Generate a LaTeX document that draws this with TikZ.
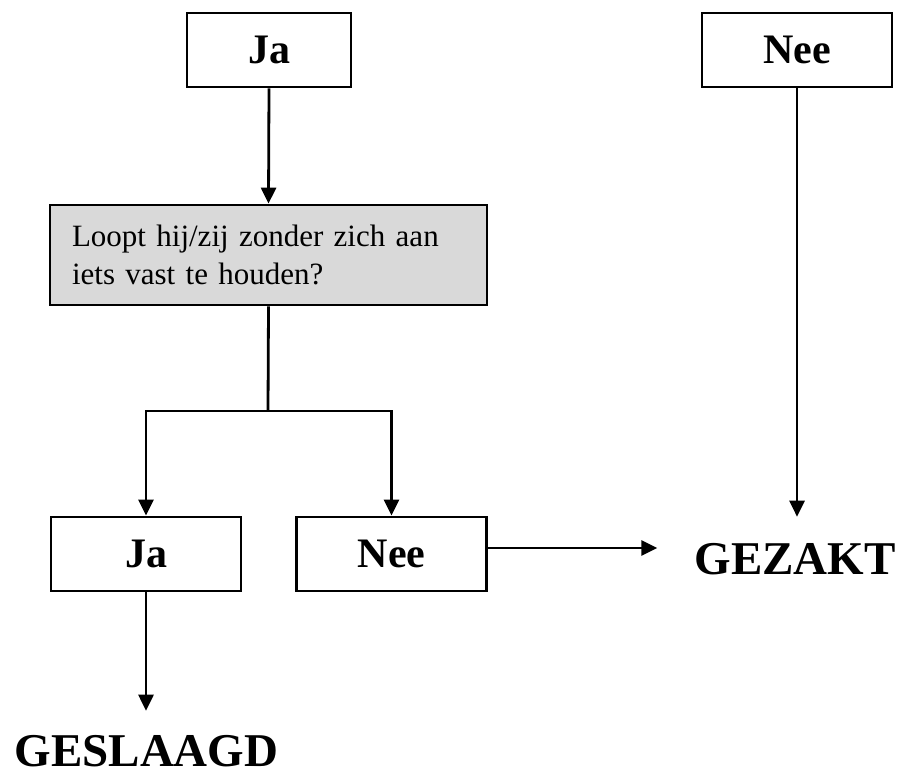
\documentclass[tikz,border=0pt]{standalone}
\usepackage{fontspec}
\setmainfont{Liberation Serif}
\usepackage{tikz}
\usetikzlibrary{arrows.meta}

\tikzset{
  answer/.style={draw, line width=2.8, minimum width=190pt, minimum height=74pt, inner sep=0pt,
    font=\fontsize{42}{50}\selectfont\bfseries},
  question/.style={draw, line width=2.8, fill=black!15, text width=393pt, align=left,
    minimum height=100pt, inner xsep=22pt, font=\fontsize{31}{38}\selectfont},
  result/.style={inner sep=0pt, anchor=base, font=\fontsize{47}{56}\selectfont\bfseries},
  arrow/.style={line width=2.8, -{Triangle[width=15pt,length=16pt]}}
}

\begin{document}
\begin{tikzpicture}[x=1pt,y=-1pt]
\useasboundingbox (0,0) rectangle (903,776);

% top answers
\node[answer, minimum width=164pt] (ja1) at (269,50) {Ja};
\node[answer] (nee1) at (797,50) {Nee};

% question
\node[question] (vraag) at (268.5,255) {Loopt hij/zij zonder zich aan\\iets vast te houden?};

% bottom answers
\node[answer] (ja2) at (146,554) {Ja};
\node[answer] (nee2) at (391.5,554) {Nee};

% results
\node[result] (gezakt) at (795,574) {GEZAKT};
\node[result] (geslaagd) at (146.5,766) {GESLAAGD};

% arrows
\draw[arrow] (ja1.south) -- (vraag.north);
\coordinate (split) at (268,411);
\draw[line width=2.8] (vraag.south) -- (split);
\draw[arrow] (split) -| (ja2.north);
\draw[arrow] (split) -| (nee2.north);
\draw[arrow, shorten >=37pt] ([yshift=6pt]nee2.east) -- ([yshift=6pt]nee2.east -| gezakt.west);
\draw[arrow, shorten >=26pt] (nee1.south) -- (nee1.south |- gezakt.north);
\draw[arrow, shorten >=24pt] (ja2.south) -- (ja2.south |- geslaagd.north);

\end{tikzpicture}
\end{document}
